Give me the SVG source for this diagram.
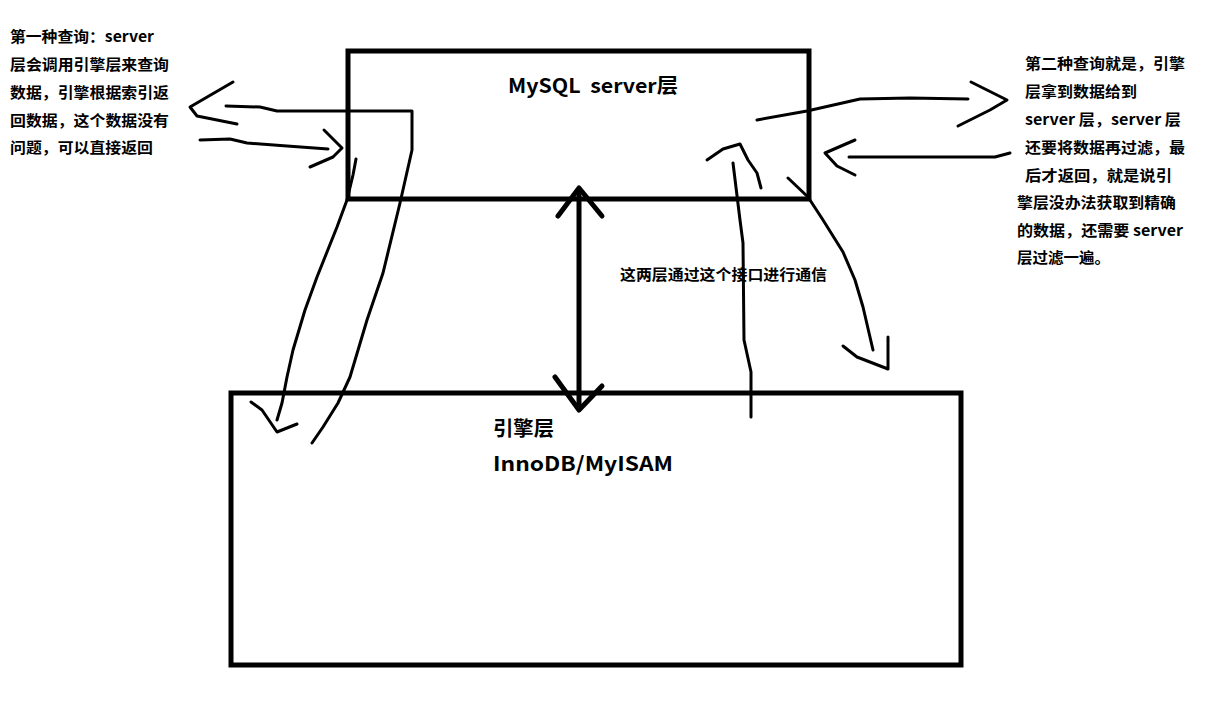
<svg xmlns="http://www.w3.org/2000/svg" width="1209" height="706" viewBox="0 0 1209 706">
<style>
.box{fill:none;stroke:#000;stroke-width:5}
.pen{fill:none;stroke:#000;stroke-width:3;stroke-linecap:round;stroke-linejoin:round}
.thick{fill:none;stroke:#000;stroke-width:5;stroke-linecap:round;stroke-linejoin:round}
text{font-family:"Microsoft YaHei","Noto Sans CJK SC","Liberation Sans",sans-serif;font-weight:bold;fill:#000}
.note{font-size:15px}
.title{font-size:20px}
</style>
<rect width="1209" height="706" fill="#fff"/>
<g id="server-layer">
<rect class="box" x="348" y="51" width="461" height="148"/>
<text class="title" x="508" y="93" textLength="170" lengthAdjust="spacingAndGlyphs" xml:space="preserve">MySQL  server层</text>
</g>
<g id="engine-layer">
<rect class="box" x="231" y="393" width="730" height="272"/>
<text class="title" x="493" y="436" textLength="61" lengthAdjust="spacingAndGlyphs">引擎层</text>
<text class="title" x="493" y="471" textLength="180" lengthAdjust="spacingAndGlyphs">InnoDB/MyISAM</text>
</g>
<g id="note-left" class="note">
<text x="10" y="42" textLength="144" lengthAdjust="spacingAndGlyphs">第一种查询：server</text>
<text x="10" y="70" textLength="159" lengthAdjust="spacingAndGlyphs">层会调用引擎层来查询</text>
<text x="10" y="98" textLength="159" lengthAdjust="spacingAndGlyphs">数据，引擎根据索引返</text>
<text x="10" y="126" textLength="159" lengthAdjust="spacingAndGlyphs">回数据，这个数据没有</text>
<text x="10" y="153" textLength="143" lengthAdjust="spacingAndGlyphs">问题，可以直接返回</text>
</g>
<g id="note-right" class="note">
<text x="1025" y="69" textLength="160" lengthAdjust="spacingAndGlyphs">第二种查询就是，引擎</text>
<text x="1025" y="97" textLength="112" lengthAdjust="spacingAndGlyphs">层拿到数据给到</text>
<text x="1025" y="125" textLength="156" lengthAdjust="spacingAndGlyphs">server 层，server 层</text>
<text x="1025" y="153" textLength="160" lengthAdjust="spacingAndGlyphs">还要将数据再过滤，最</text>
<text x="1025" y="181" textLength="147" lengthAdjust="spacingAndGlyphs">后才返回，就是说引</text>
<text x="1017" y="208" textLength="159" lengthAdjust="spacingAndGlyphs">擎层没办法获取到精确</text>
<text x="1017" y="236" textLength="166" lengthAdjust="spacingAndGlyphs">的数据，还需要 server</text>
<text x="1017" y="263" textLength="93" lengthAdjust="spacingAndGlyphs">层过滤一遍。</text>
</g>
<g id="note-middle" class="note">
<text x="620" y="280" textLength="207" lengthAdjust="spacingAndGlyphs">这两层通过这个接口进行通信</text>
</g>
<g id="connectors">
<line class="thick" x1="579" y1="190" x2="579" y2="408"/>
<polyline class="thick" points="558,216 579,188 602,216"/>
<polyline class="thick" points="555,377 579,410 602,386"/>
<polyline class="pen" points="312,443 323,427 338,403 350,377 367,320 383,273 400,203 412,150 412,111 277,111 260,107 226,106"/>
<polyline class="pen" points="233,82 190,107 197,116 237,124"/>
<polyline class="pen" points="200,140 230,139 247,143 287,146 328,149"/>
<polyline class="pen" points="324,130 342,148 333,157 310,167"/>
<polyline class="pen" points="356,159 353,175 347,200 337,227 317,277 305,310 293,350 287,377 282,403 277,420"/>
<polyline class="pen" points="251,402 262,410 277,432 297,424"/>
<polyline class="pen" points="757,120 807,111 860,99 910,98 968,99"/>
<polyline class="pen" points="971,82 1007,100 990,110 958,126"/>
<polyline class="pen" points="1010,153 995,157 849,157"/>
<polyline class="pen" points="855,140 825,153 837,166 855,175"/>
<polyline class="pen" points="751,417 751,372 744,340 743,243 740,220 733,163"/>
<polyline class="pen" points="707,160 723,149 740,144 748,160 757,173 761,188"/>
<polyline class="pen" points="788,178 808,197 823,220 843,252 855,280 863,307 873,350"/>
<polyline class="pen" points="843,346 857,357 888,369 888,337"/>
</g>
</svg>
